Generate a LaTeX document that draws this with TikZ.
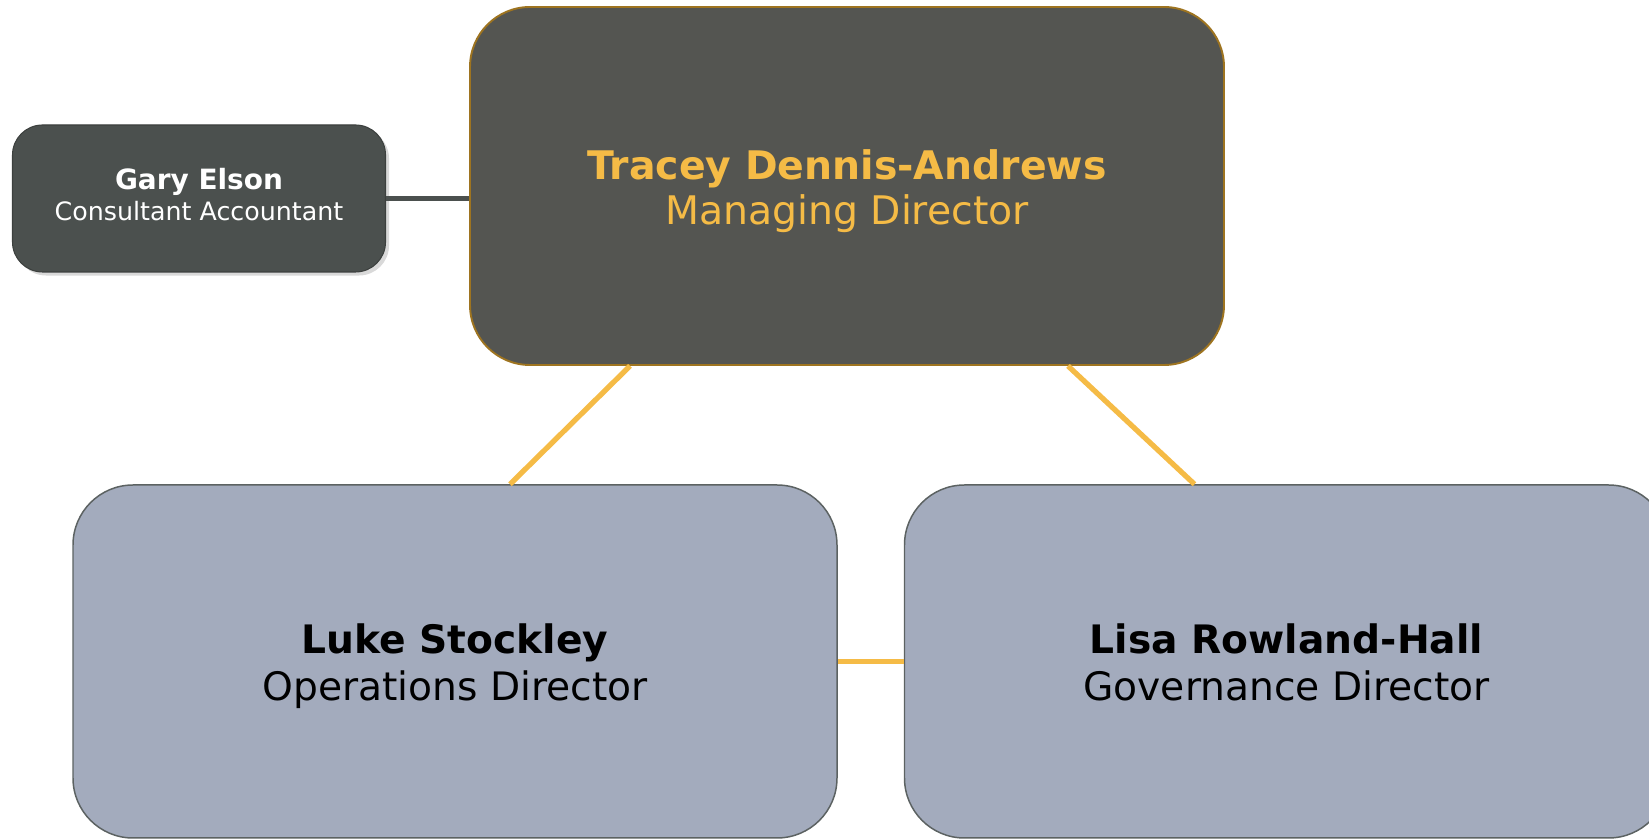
\documentclass[tikz,border=0pt]{standalone}
\usepackage{fontspec}
\setmainfont{DejaVu Sans}
\usepackage{tikz}
\usetikzlibrary{calc, positioning, shadows}
\definecolor{mdgrey}{RGB}{84, 85, 81}
\definecolor{mdgold}{RGB}{245, 187, 70}
\definecolor{mdedge}{RGB}{158, 116, 32}
\definecolor{garygrey}{RGB}{75, 80, 78}
\definecolor{dirblue}{RGB}{163, 171, 189}
\definecolor{diredge}{RGB}{92, 98, 98}
\tikzset{>=latex}
\tikzset{
  mdbox/.style = {draw = mdedge, line width = 1.1pt, fill = mdgrey, text = mdgold, rounded corners = 1.2cm, minimum width = 15.08cm, minimum height = 7.16cm, inner sep = 0pt, align = center, font = \fontsize{22.4}{26}\selectfont},
  garybox/.style = {draw = garygrey!80!black, line width = 0.6pt, fill = garygrey, text = white, rounded corners = 0.6cm, minimum width = 7.46cm, minimum height = 2.94cm, inner sep = 0pt, align = center, font = \fontsize{15.9}{17.5}\selectfont, drop shadow = {opacity = 0.3, shadow xshift = 2pt, shadow yshift = -2pt}},
  dirbox/.style = {draw = diredge, line width = 0.85pt, fill = dirblue, text = black, rounded corners = 1.2cm, minimum width = 15.28cm, minimum height = 7.06cm, inner sep = 0pt, align = center, font = \fontsize{22.3}{27}\selectfont},
  goldline/.style = {line width = 3pt, mdgold},
  greyline/.style = {line width = 3pt, garygrey}
}
\newcommand{\toppad}{\rule{0pt}{26pt}}
\begin{document}
\begin{tikzpicture}
\useasboundingbox (0,0) rectangle (32.98,16.8);
\node[mdbox] (md) at (16.94, 13.08) {\toppad\textbf{Tracey Dennis-Andrews}\strut\\Managing Director\strut};
\node[garybox, left = 1.66cm of md, yshift = -0.25cm] (gary) {\textbf{Gary Elson}\strut\\\fontsize{14.4}{17.5}\selectfont Consultant Accountant\strut};
\node[dirbox] (luke) at (9.10, 3.57) {\toppad\textbf{Luke Stockley}\strut\\Operations Director\strut};
\node[dirbox, right = 1.32cm of luke] (lisa) {\toppad\textbf{Lisa Rowland-Hall}\strut\\Governance Director\strut};
\draw[greyline] (gary.east) -- (gary.east -| md.west);
\draw[goldline] ($(md.south)+(-4.34,0)$) -- ($(luke.north)+(1.1,0)$);
\draw[goldline] ($(md.south)+(4.42,0)$) -- ($(lisa.north)+(-1.84,0)$);
\draw[goldline] (luke.east) -- (luke.east -| lisa.west);
\end{tikzpicture}
\end{document}
